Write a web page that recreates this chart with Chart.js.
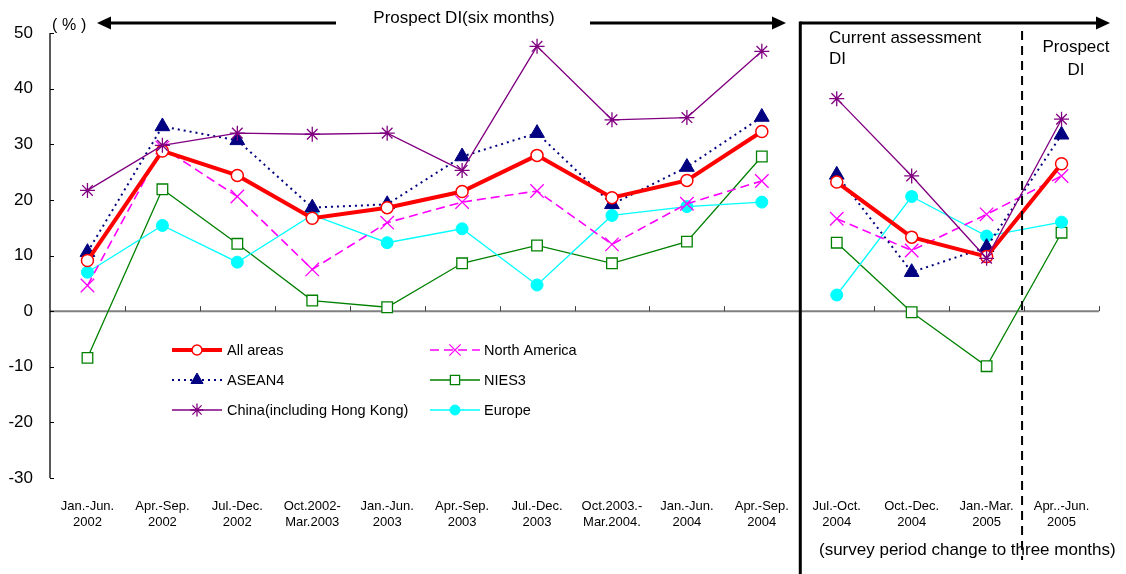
<!DOCTYPE html>
<html>
<head>
<meta charset="utf-8">
<script src="https://cdn.jsdelivr.net/npm/chart.js@4/dist/chart.umd.min.js"></script>
<style>
  html, body { margin: 0; padding: 0; background: #fff; }
  #wrap { width: 1126px; height: 574px; position: relative; }
</style>
</head>
<body>
<div id="wrap"><canvas id="c" width="1126" height="574"></canvas></div>
<script>
// Survey periods (two-line tick labels)
const periods = [
  ['Jan.-Jun.', '2002'], ['Apr.-Sep.', '2002'], ['Jul.-Dec.', '2002'],
  ['Oct.2002-', 'Mar.2003'], ['Jan.-Jun.', '2003'], ['Apr.-Sep.', '2003'],
  ['Jul.-Dec.', '2003'], ['Oct.2003.-', 'Mar.2004.'], ['Jan.-Jun.', '2004'],
  ['Apr.-Sep.', '2004'], ['Jul.-Oct.', '2004'], ['Oct.-Dec.', '2004'],
  ['Jan.-Mar.', '2005'], ['Apr..-Jun.', '2005']
];

// DI values (%) by region
const allAreas     = [9.1, 28.8, 24.4, 16.7, 18.6, 21.5, 28.0, 20.4, 23.5, 32.3, 23.2, 13.3, 9.8, 26.5];
const asean4       = [10.6, 33.2, 30.7, 18.6, 19.2, 27.8, 32.0, 19.2, 25.9, 34.9, 24.5, 7.0, 11.5, 31.7];
const northAmerica = [4.6, 29.4, 20.6, 7.5, 15.9, 19.6, 21.6, 12.0, 19.3, 23.4, 16.6, 10.9, 17.4, 24.3];
const nies3        = [-8.4, 21.9, 12.1, 1.9, 0.7, 8.6, 11.8, 8.6, 12.5, 27.8, 12.3, -0.2, -9.9, 14.1];
const china        = [21.7, 29.8, 32.0, 31.8, 32.0, 25.3, 47.6, 34.4, 34.8, 46.7, 38.2, 24.3, 9.5, 34.5];
const europe       = [7.0, 15.4, 8.8, 17.3, 12.3, 14.8, 4.7, 17.2, 18.8, 19.6, 2.9, 20.6, 13.5, 16.0];

const yTicks = [50, 40, 30, 20, 10, 0, -10, -20, -30];

// index where the survey period switches from six-month to three-month
const breakAfter = 9;
// last current-assessment period (prospect follows)
const prospectAfter = 12;

const FONT = '"Liberation Sans", Arial, sans-serif';

const gapSeg = { borderColor: ctx => ctx.p0DataIndex === breakAfter ? 'rgba(0,0,0,0)' : undefined };

function ds(label, data, o) {
  return Object.assign({
    label, data, fill: false, tension: 0, segment: gapSeg,
    pointHoverRadius: 0
  }, o);
}

const datasets = [
  ds('All areas', allAreas, { borderColor: '#FF0000', borderWidth: 4, pointStyle: 'circle', pointRadius: 6,
     pointBackgroundColor: '#FFFFFF', pointBorderColor: '#FF0000', pointBorderWidth: 1.5, legendCol: 0, legendRow: 0, legendR: 5 }),
  ds('North America', northAmerica, { borderColor: '#FF00FF', borderWidth: 1.6, borderDash: [9, 5], pointStyle: 'crossRot', pointRadius: 9.5,
     pointBorderColor: '#FF00FF', pointBackgroundColor: '#FF00FF', pointBorderWidth: 1.3, legendCol: 1, legendRow: 0, legendR: 8 }),
  ds('ASEAN4', asean4, { borderColor: '#000080', borderWidth: 2, borderDash: [2, 4], pointStyle: 'triangle', pointRadius: 8.5,
     pointBackgroundColor: '#000080', pointBorderColor: '#000080', pointBorderWidth: 1, legendCol: 0, legendRow: 1, legendR: 7 }),
  ds('NIES3', nies3, { borderColor: '#008000', borderWidth: 1.3, pointStyle: 'rect', pointRadius: 7.5,
     pointBackgroundColor: '#FFFFFF', pointBorderColor: '#008000', pointBorderWidth: 1.3, legendCol: 1, legendRow: 1, legendR: 6.5 }),
  ds('China(including Hong Kong)', china, { borderColor: '#800080', borderWidth: 1.3, pointStyle: 'star', pointRadius: 7.5,
     pointBackgroundColor: '#800080', pointBorderColor: '#800080', pointBorderWidth: 1.3, legendCol: 0, legendRow: 2, legendR: 6.5 }),
  ds('Europe', europe, { borderColor: '#00FFFF', borderWidth: 1.3, pointStyle: 'circle', pointRadius: 6,
     pointBackgroundColor: '#00FFFF', pointBorderColor: '#00FFFF', pointBorderWidth: 1, legendCol: 1, legendRow: 2, legendR: 5 })
];

// z-order: later drawn on top
datasets.forEach((d, i) => { d.order = [1, 3, 2, 5, 0, 4][i]; });

function arrow(ctx, x0, x1, y, head) {
  // line from x0 to x1, head pointing towards x1
  const dir = Math.sign(x1 - x0);
  ctx.beginPath();
  ctx.moveTo(x0, y);
  ctx.lineTo(x1 - dir * head, y);
  ctx.stroke();
  ctx.beginPath();
  ctx.moveTo(x1, y);
  ctx.lineTo(x1 - dir * head, y - 6.5);
  ctx.lineTo(x1 - dir * head, y + 6.5);
  ctx.closePath();
  ctx.fill();
}

const decor = {
  id: 'decor',
  beforeDatasetsDraw(chart) {
    const { ctx, scales: { x, y }, chartArea: a } = chart;
    ctx.save();
    // zero line with inner tick marks at category boundaries
    const y0 = y.getPixelForValue(0);
    ctx.strokeStyle = '#808080';
    ctx.lineWidth = 2;
    ctx.beginPath();
    ctx.moveTo(a.left, y0); ctx.lineTo(a.right, y0);
    ctx.stroke();
    ctx.lineWidth = 1;
    ctx.strokeStyle = '#404040';
    for (let i = 1; i <= periods.length; i++) {
      const bx = i < periods.length ? (x.getPixelForValue(i - 1) + x.getPixelForValue(i)) / 2 : a.right;
      ctx.beginPath();
      ctx.moveTo(Math.round(bx) + 0.5, y0);
      ctx.lineTo(Math.round(bx) + 0.5, y0 - 5);
      ctx.stroke();
    }
    // y axis with inward ticks
    ctx.strokeStyle = '#000';
    ctx.lineWidth = 1.3;
    ctx.beginPath();
    ctx.moveTo(a.left, y.getPixelForValue(50));
    ctx.lineTo(a.left, y.getPixelForValue(-30));
    ctx.stroke();
    ctx.lineWidth = 1;
    yTicks.forEach(v => {
      const py = Math.round(y.getPixelForValue(v)) + 0.5;
      ctx.beginPath();
      ctx.moveTo(a.left, py); ctx.lineTo(a.left + 4, py);
      ctx.stroke();
    });
    ctx.restore();
  },
  afterDraw(chart) {
    const { ctx, scales: { x, y }, chartArea: a } = chart;
    ctx.save();
    ctx.fillStyle = '#000';
    ctx.strokeStyle = '#000';
    const xBreak = (x.getPixelForValue(breakAfter) + x.getPixelForValue(breakAfter + 1)) / 2 + 1;
    const xProspect = (x.getPixelForValue(prospectAfter) + x.getPixelForValue(prospectAfter + 1)) / 2 - 2;
    const ay = 23;

    // period arrows
    ctx.lineWidth = 3;
    arrow(ctx, 336, 97, ay, 14);
    arrow(ctx, 590, 786, ay, 14);
    arrow(ctx, xBreak, 1110, ay, 14);

    // survey period change divider
    ctx.beginPath();
    ctx.moveTo(xBreak, ay - 1.5);
    ctx.lineTo(xBreak, 574);
    ctx.stroke();

    // current assessment / prospect divider
    ctx.lineWidth = 2;
    ctx.setLineDash([9, 6]);
    ctx.beginPath();
    ctx.moveTo(xProspect, 31);
    ctx.lineTo(xProspect, 560);
    ctx.stroke();
    ctx.setLineDash([]);

    // texts
    ctx.font = '17px ' + FONT;
    ctx.textBaseline = 'middle';
    ctx.textAlign = 'center';
    ctx.fillText('Prospect DI(six months)', 464, 18);
    ctx.textAlign = 'left';
    ctx.fillText('Current assessment', 829, 38);
    ctx.fillText('DI', 829, 59);
    ctx.textAlign = 'center';
    ctx.fillText('Prospect', 1076, 47);
    ctx.fillText('DI', 1076, 70);
    ctx.textAlign = 'left';
    ctx.fillText('(survey period change to three months)', 819, 550);
    ctx.font = '16px ' + FONT;
    ctx.fillText('(', 52, 26);
    ctx.fillText('%', 62, 26);
    ctx.fillText(')', 81, 26);

    // legend
    ctx.font = '14.5px ' + FONT;
    const cols = [{ x0: 172, x1: 222, tx: 227 }, { x0: 430, x1: 480, tx: 484 }];
    const rows = [350, 380, 410];
    chart.data.datasets.forEach(d => {
      const c = cols[d.legendCol], ry = rows[d.legendRow];
      ctx.save();
      ctx.strokeStyle = d.borderColor;
      ctx.lineWidth = d.borderWidth;
      ctx.setLineDash(d.borderDash || []);
      ctx.beginPath();
      ctx.moveTo(c.x0, ry); ctx.lineTo(c.x1, ry);
      ctx.stroke();
      ctx.setLineDash([]);
      ctx.fillStyle = d.pointBackgroundColor;
      ctx.strokeStyle = d.pointBorderColor;
      ctx.lineWidth = d.pointBorderWidth;
      Chart.helpers.drawPoint(ctx, { pointStyle: d.pointStyle, radius: d.legendR, borderWidth: d.pointBorderWidth, rotation: 0 },
        (c.x0 + c.x1) / 2, ry);
      ctx.restore();
      ctx.fillStyle = '#000';
      ctx.textAlign = 'left';
      ctx.fillText(d.label, c.tx, ry + 1);
    });
    ctx.restore();
  }
};

new Chart(document.getElementById('c'), {
  type: 'line',
  data: { labels: periods, datasets },
  options: {
    responsive: false,
    animation: false,
    devicePixelRatio: 1,
    layout: { padding: { top: 33, right: 27, left: 0, bottom: 0 } },
    plugins: { legend: { display: false }, tooltip: { enabled: false } },
    scales: {
      x: {
        type: 'category',
        offset: true,
        grid: { display: false },
        border: { display: false },
        ticks: {
          color: '#000', autoSkip: false, maxRotation: 0, padding: 13,
          font: { family: FONT, size: 13 }
        },
        afterFit(s) { s.height = 96; }
      },
      y: {
        min: -30, max: 50,
        grid: { display: false },
        border: { display: false },
        ticks: {
          stepSize: 10, color: '#000', padding: 9,
          font: { family: FONT, size: 17 },
          callback: v => (v < 0 ? '-' + Math.abs(v) : String(v))
        },
        afterFit(s) { s.width = 50; }
      }
    }
  },
  plugins: [decor]
});
</script>
</body>
</html>
